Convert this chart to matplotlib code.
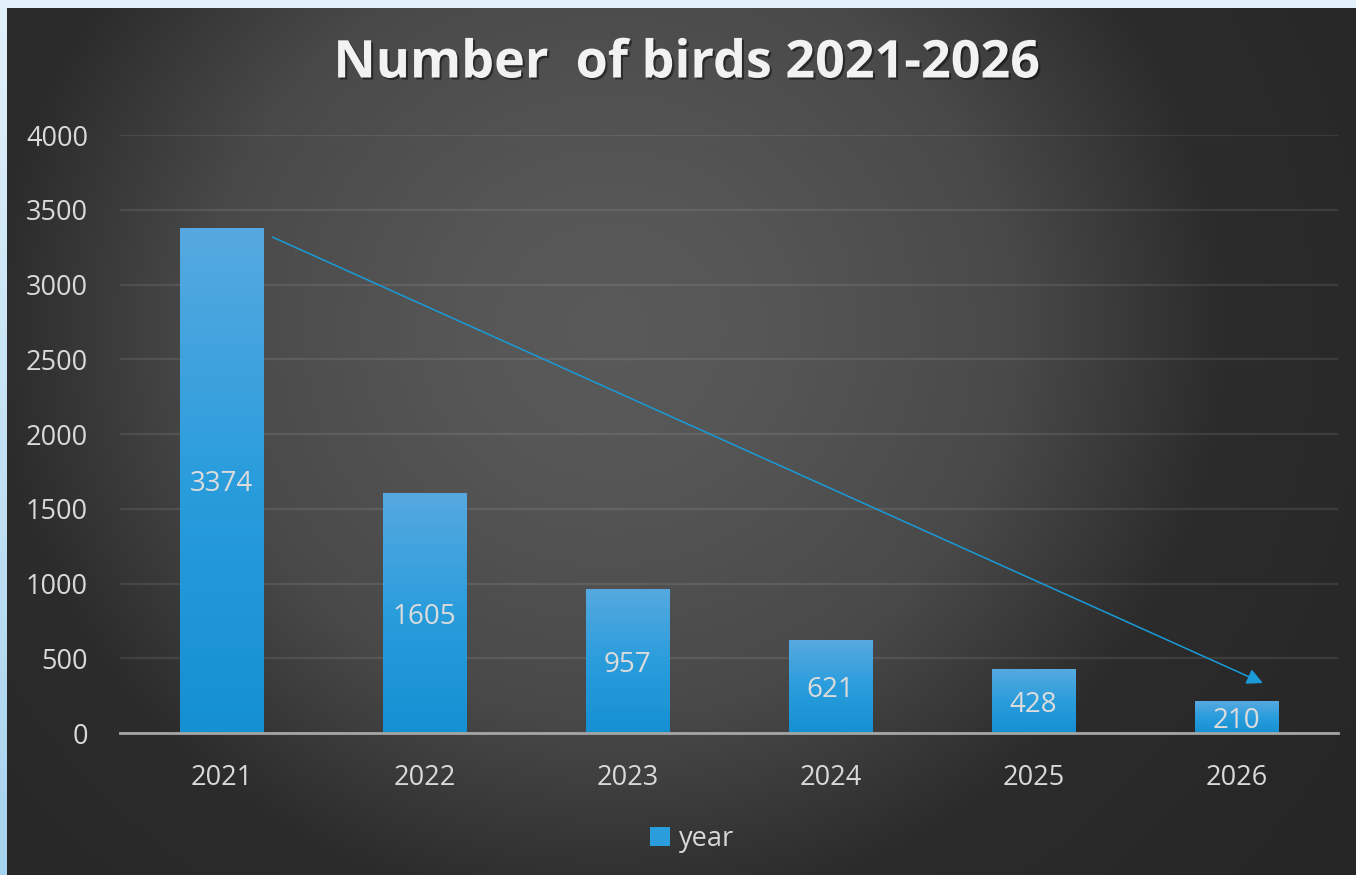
import numpy as np
import matplotlib
matplotlib.use('Agg')
import matplotlib.pyplot as plt
from matplotlib import patheffects as pe
from matplotlib.colors import LinearSegmentedColormap
from matplotlib.patches import Patch

years = ['2021', '2022', '2023', '2024', '2025', '2026']
birds = [3374, 1605, 957, 621, 428, 210]
yticks = [0, 500, 1000, 1500, 2000, 2500, 3000, 3500, 4000]
title = 'Number  of birds 2021-2026'
legend_label = 'year'
trend_start = (0.25, 3318)
trend_end = (5.13, 334)

W, H = 1356, 875
fig = plt.figure(figsize=(W / 100, H / 100), dpi=100)

# outer light-blue border
bg = fig.add_axes([0, 0, 1, 1])
bg.axis('off')
yy = np.linspace(0, 1, 200).reshape(-1, 1)
bcm = LinearSegmentedColormap.from_list('b', ['#e2f1fa', '#a6d3ef'])
bg.imshow(yy, cmap=bcm, aspect='auto', extent=[0, 1, 1, 0])
bg.set_xlim(0, 1); bg.set_ylim(1, 0)

# dark panel with radial gradient
panel = fig.add_axes([7 / W, 0, 1 - 7 / W, 1 - 8 / H])
panel.axis('off')
px = np.linspace(7, W, 450)
py = np.linspace(8, H, 300)
X, Y = np.meshgrid(px, py)
r = np.sqrt((X - 610) ** 2 + ((Y - 330) / 0.95) ** 2) / 900
r = np.clip(r, 0, 1)
pcm = LinearSegmentedColormap.from_list(
    'p', [(0, '#5a5a5a'), (0.17, '#565656'), (0.45, '#494949'), (0.53, '#3f3f3f'),
          (0.68, '#2c2c2c'), (1, '#262626')])
panel.imshow(r, cmap=pcm, vmin=0, vmax=1, aspect='auto', extent=[0, 1, 0, 1], origin='upper')
panel.set_xlim(0, 1); panel.set_ylim(0, 1)

ax = fig.add_axes([120 / W, (H - 733) / H, (1338 - 120) / W, (733 - 135) / H])
ax.set_facecolor('none')
x = np.arange(len(years))
bars = ax.bar(x, birds, width=0.41, color='none', zorder=3)
gcm = LinearSegmentedColormap.from_list('g', ['#1590d3', '#2a9ddc', '#56a9e0'])
grad = np.linspace(0, 1, 100).reshape(-1, 1)
for b in bars:
    x0, y0 = b.get_x(), b.get_y()
    ax.imshow(grad, cmap=gcm, aspect='auto', origin='lower',
              extent=[x0, x0 + b.get_width(), y0, y0 + b.get_height()], zorder=3)

for xi, v in zip(x, birds):
    ax.text(xi, v / 2, str(v), ha='center', va='center_baseline', color='#dcdcdc',
            fontsize=20, family='Open Sans', zorder=5)

ax.annotate('', xy=trend_end, xytext=trend_start,
            arrowprops=dict(arrowstyle='-|>', color='#1b9ad8', lw=1.1,
                            mutation_scale=24, shrinkA=0, shrinkB=0), zorder=4)

ax.set_xlim(-0.5, len(years) - 0.5)
ax.set_ylim(0, 4000)
ax.set_yticks(yticks)
ax.set_yticklabels([str(t) for t in yticks])
ax.set_xticks(x)
ax.set_xticklabels(years)
ax.tick_params(length=0, colors='#d9d9d9', labelsize=19.5)
ax.tick_params(axis='y', pad=23)
ax.tick_params(axis='x', pad=22)
for lab in ax.get_xticklabels() + ax.get_yticklabels():
    lab.set_family('Open Sans')
ax.grid(axis='y', color='white', alpha=0.09, lw=1.6, zorder=0)
ax.set_axisbelow(True)
for s in ['top', 'right', 'left']:
    ax.spines[s].set_visible(False)
ax.spines['bottom'].set_color('#a6a6a6')
ax.spines['bottom'].set_linewidth(2)
ax.spines['bottom'].set_zorder(6)

t = fig.text(687 / W, 1 - 64 / H, title, ha='center', va='center', color='#f2f2f2',
             fontsize=37.5, fontweight='bold', family='Open Sans')
t.set_path_effects([pe.withSimplePatchShadow(offset=(1.5, -1.5), shadow_rgbFace='black', alpha=0.45)])

leg = fig.legend(handles=[Patch(facecolor='#2a9ddc', edgecolor='none', label=legend_label)],
                 loc='center', bbox_to_anchor=(692 / W, 1 - 839 / H), frameon=False,
                 handlelength=0.75, handleheight=0.75, handletextpad=0.3,
                 labelcolor='#d9d9d9', prop={'family': 'Open Sans', 'size': 19.5})

fig.savefig('out.png', dpi=100)
